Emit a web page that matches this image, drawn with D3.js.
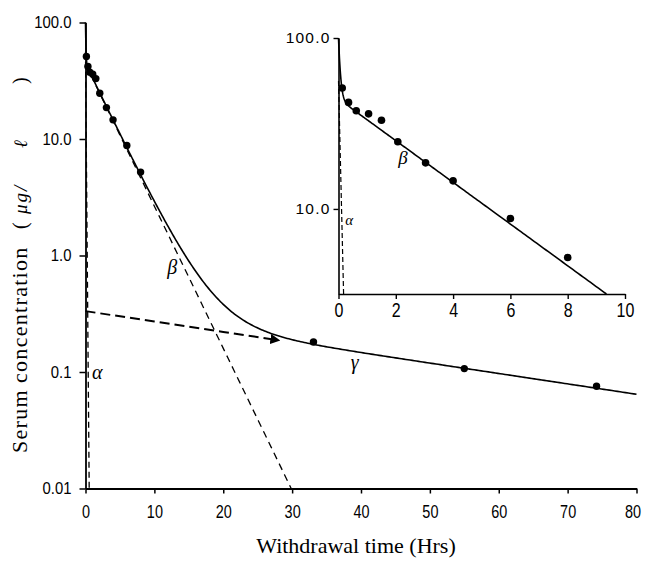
<!DOCTYPE html>
<html>
<head>
<meta charset="utf-8">
<script src="https://cdn.jsdelivr.net/npm/d3@7/dist/d3.min.js"></script>
<style>
  html, body { margin: 0; padding: 0; background: #fff; }
  svg { display: block; }
  .tick text { fill: #000; }
</style>
</head>
<body>
<script>
// Observed serum concentrations (µg/ℓ) against withdrawal time (hours)
const sampleHours = [0.13, 0.35, 0.62, 1.05, 1.5, 2.07, 3.04, 4.0, 6.0, 8.0, 33.1, 55.0, 74.2];
const sampleConc  = [51, 42, 37.5, 36, 33, 24.7, 18.6, 14.6, 8.8, 5.2, 0.181, 0.107, 0.0755];

// Fitted exponential phases: C = A · 10^(−k·t)
const phaseNames      = ["α", "β", "γ"];
const phaseIntercepts = [56, 44, 0.333];
const phaseSlopes     = [7.0, 0.122, 0.00892];

// Axis ticks
const mainXTicks  = [0, 10, 20, 30, 40, 50, 60, 70, 80];
const mainYTicks  = [0.01, 0.1, 1, 10, 100];
const mainYLabels = ["0.01", "0.1", "1.0", "10.0", "100.0"];
const insetXTicks = [0, 2, 4, 6, 8, 10];
const insetYTicks = [10, 100];
const insetYLabels = ["10.0", "100.0"];

const W = 646, H = 561;
const svg = d3.select("body").append("svg").attr("width", W).attr("height", H);

const phase = i => t => phaseIntercepts[i] * Math.pow(10, -phaseSlopes[i] * t);
const alpha = phase(0), beta = phase(1), gamma = phase(2);
const total = t => alpha(t) + beta(t) + gamma(t);
const tWhere = (i, c) => Math.log10(phaseIntercepts[i] / c) / phaseSlopes[i];

const samples = (t0, t1, n) => {
  // denser near the start where the curve bends sharply
  const out = [];
  for (let j = 0; j <= n; j++) out.push(t0 + (t1 - t0) * Math.pow(j / n, 2));
  return out;
};

// condensed digits for the tick labels
const condense = (sel, factor) => sel.each(function () {
  const w = this.getComputedTextLength();
  d3.select(this).attr("textLength", w * factor).attr("lengthAdjust", "spacingAndGlyphs");
});

const defs = svg.append("defs");
defs.append("marker").attr("id", "arrow")
  .attr("viewBox", "0 0 10 10").attr("refX", 8).attr("refY", 5)
  .attr("markerWidth", 5).attr("markerHeight", 5).attr("orient", "auto")
  .attr("markerUnits", "strokeWidth")
  .append("path").attr("d", "M0,0 L10,5 L0,10 Z").attr("fill", "#000");

// ---------- main panel ----------
const x = d3.scaleLinear().domain([0, 80]).range([85.5, 636.5]);
const y = d3.scaleLog().domain([0.01, 100]).range([488.5, 22.5]);
const main = svg.append("g");

const lineMain = fn => d3.line().x(t => x(t)).y(t => y(fn(t)));

// beta extrapolation (dashed) down to the floor
main.append("path")
  .attr("d", lineMain(beta)(samples(0, tWhere(1, 0.01), 60)))
  .attr("fill", "none").attr("stroke", "#000").attr("stroke-width", 1.3)
  .attr("stroke-dasharray", "7,5");

// alpha phase (dashed), nearly vertical at the origin
main.append("path")
  .attr("d", lineMain(alpha)(samples(0, tWhere(0, 0.01), 40)))
  .attr("fill", "none").attr("stroke", "#000").attr("stroke-width", 1.3)
  .attr("stroke-dasharray", "6,4");

// gamma back-extrapolation (bold dashes with arrow)
main.append("path")
  .attr("d", lineMain(gamma)([0, 10, 20, 28]))
  .attr("fill", "none").attr("stroke", "#000").attr("stroke-width", 2)
  .attr("stroke-dasharray", "10,5")
  .attr("marker-end", "url(#arrow)");

// overall fitted curve
main.append("path")
  .attr("d", lineMain(total)(samples(0, 80, 400)))
  .attr("fill", "none").attr("stroke", "#000").attr("stroke-width", 1.6);

// observed points
main.selectAll("circle.pt").data(sampleHours).join("circle")
  .attr("class", "pt")
  .attr("cx", d => x(d)).attr("cy", (d, i) => y(sampleConc[i]))
  .attr("r", 3.7).attr("fill", "#000");

// axes
const xAxis = main.append("g").attr("transform", `translate(0,${y(0.01)})`)
  .call(d3.axisBottom(x).tickValues(mainXTicks).tickSize(5).tickSizeOuter(0).tickPadding(11)
    .tickFormat(d3.format("d")));
const yAxis = main.append("g").attr("transform", `translate(${x(0)},0)`)
  .call(d3.axisLeft(y).tickValues(mainYTicks).tickSize(6).tickSizeOuter(0).tickPadding(8)
    .tickFormat((d, i) => mainYLabels[i]));
[xAxis, yAxis].forEach(g => {
  g.selectAll("path.domain").attr("stroke", "#000").attr("stroke-width", 1.8);
  g.selectAll(".tick line").attr("stroke", "#000").attr("stroke-width", 1.5);
});
xAxis.selectAll(".tick text")
  .attr("font-family", "'Liberation Sans', Arial, sans-serif")
  .attr("font-size", 18.5)
  .call(condense, 0.78);
// keep the last label inside the page edge
xAxis.selectAll(".tick text").filter(d => d === 80)
  .attr("text-anchor", "end").attr("x", 4);
yAxis.selectAll(".tick text")
  .attr("font-family", "'Liberation Sans', Arial, sans-serif")
  .attr("font-size", 16.5)
  .call(condense, 0.9);

// phase labels
const greek = (g, txt, px, py, size) => g.append("text")
  .attr("x", px).attr("y", py).attr("text-anchor", "middle").attr("dominant-baseline", "central")
  .attr("font-family", "'Liberation Serif', 'DejaVu Serif', serif").attr("font-style", "italic")
  .attr("font-size", size).attr("fill", "#000").text(txt);
greek(main, phaseNames[0], x(1.7), y(0.1), 20);
greek(main, phaseNames[1], x(12.6), y(0.8), 20);
greek(main, phaseNames[2], x(39.1), y(0.122), 20);

// axis titles
svg.append("text")
  .attr("x", 356).attr("y", 553).attr("text-anchor", "middle")
  .attr("font-family", "'Liberation Serif', 'Times New Roman', serif")
  .attr("font-size", 22).attr("fill", "#000")
  .text("Withdrawal time (Hrs)");

// vertical title, laid out piece by piece from the bottom up
const yTitle = svg.append("g").attr("transform", "translate(27,0) rotate(-90)")
  .attr("font-family", "'Liberation Serif', 'Times New Roman', serif").attr("fill", "#000");
const yPieces = [
  { text: "Serum", at: 453, size: 22, italic: false, ls: 1.3 },
  { text: "concentration", at: 383, size: 22, italic: false, ls: 1.3 },
  { text: "(", at: 229, size: 20, italic: false, ls: 0 },
  { text: "μg/", at: 214, size: 19, italic: true, ls: 2 },
  { text: "ℓ", at: 148, size: 19, italic: true, ls: 0 },
  { text: ")", at: 84, size: 20, italic: false, ls: 0 }
];
yTitle.selectAll("text").data(yPieces).join("text")
  .attr("x", d => -d.at).attr("y", 0)
  .attr("font-size", d => d.size)
  .attr("font-style", d => d.italic ? "italic" : "normal")
  .attr("letter-spacing", d => d.ls)
  .text(d => d.text);

// ---------- inset: first 10 hours ----------
const xi = d3.scaleLinear().domain([0, 10]).range([338.5, 625]);
const yi = d3.scaleLog().domain([3.18, 100]).range([294, 38]);
const inset = svg.append("g");
const lineInset = fn => d3.line().x(t => xi(t)).y(t => yi(fn(t)));
const insetFloor = yi.domain()[0];

inset.append("path")
  .attr("d", lineInset(alpha)(samples(0, tWhere(0, insetFloor), 30)))
  .attr("fill", "none").attr("stroke", "#000").attr("stroke-width", 1.2)
  .attr("stroke-dasharray", "5,3");

const earlyFit = t => alpha(t) + beta(t);
inset.append("path")
  .attr("d", lineInset(earlyFit)(samples(0, tWhere(1, insetFloor), 200)))
  .attr("fill", "none").attr("stroke", "#000").attr("stroke-width", 1.6);

inset.selectAll("circle.pt").data(sampleHours.filter(t => t <= 10)).join("circle")
  .attr("class", "pt")
  .attr("cx", d => xi(d)).attr("cy", (d, i) => yi(sampleConc[i]))
  .attr("r", 3.8).attr("fill", "#000");

const xiAxis = inset.append("g").attr("transform", `translate(0,${yi(insetFloor)})`)
  .call(d3.axisBottom(xi).tickValues(insetXTicks).tickSize(5).tickSizeOuter(0).tickPadding(4)
    .tickFormat(d3.format("d")));
const yiAxis = inset.append("g").attr("transform", `translate(${xi(0)},0)`)
  .call(d3.axisLeft(yi).tickValues(insetYTicks).tickSize(5).tickSizeOuter(0).tickPadding(3)
    .tickFormat((d, i) => insetYLabels[i]));
[xiAxis, yiAxis].forEach(g => {
  g.selectAll("path.domain").attr("stroke", "#000").attr("stroke-width", 1.6);
  g.selectAll(".tick line").attr("stroke", "#000").attr("stroke-width", 1.4);
});
xiAxis.selectAll(".tick text")
  .attr("font-family", "'Liberation Sans', Arial, sans-serif")
  .attr("font-size", 20)
  .call(condense, 0.8);
yiAxis.selectAll(".tick text")
  .attr("font-family", "'Liberation Sans', Arial, sans-serif")
  .attr("font-size", 15.5).attr("letter-spacing", 1.2);

greek(inset, phaseNames[0], xi(0.37), yi(8.6), 15);
greek(inset, phaseNames[1], xi(2.25), yi(20.1), 19);
</script>
</body>
</html>
